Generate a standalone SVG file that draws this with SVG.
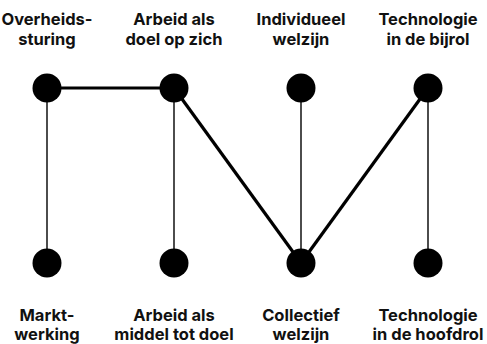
<svg xmlns="http://www.w3.org/2000/svg" width="487" height="344" viewBox="0 0 487 344">
<style>
text{font-family:Inter,"Liberation Sans",sans-serif;font-weight:700;font-size:16.5px;fill:#111;text-anchor:middle}
.thick{stroke:#000;stroke-width:3.2;fill:none}
.thin{stroke:#000;stroke-width:1.4;fill:none}
circle{fill:#000}
</style>
<rect width="487" height="344" fill="#fff"/>
<g id="connectors">
<line class="thin" x1="47" y1="88" x2="47" y2="263"/>
<line class="thin" x1="174" y1="88" x2="174" y2="263"/>
<line class="thin" x1="301" y1="88" x2="301" y2="263"/>
<line class="thin" x1="428" y1="88" x2="428" y2="263"/>
<line class="thick" x1="47" y1="88" x2="174" y2="88"/>
<line class="thick" x1="174" y1="88" x2="301" y2="263"/>
<line class="thick" x1="301" y1="263" x2="428" y2="88"/>
</g>
<g id="overheidssturing"><circle cx="47" cy="88" r="14.5"/><text x="47" y="25">Overheids-</text><text x="47" y="45">sturing</text></g>
<g id="arbeid-doel"><circle cx="174" cy="88" r="14.5"/><text x="174" y="25">Arbeid als</text><text x="174" y="45">doel op zich</text></g>
<g id="individueel"><circle cx="301" cy="88" r="14.5"/><text x="301" y="25">Individueel</text><text x="301" y="45">welzijn</text></g>
<g id="tech-bijrol"><circle cx="428" cy="88" r="14.5"/><text x="428" y="25">Technologie</text><text x="428" y="45">in de bijrol</text></g>
<g id="marktwerking"><circle cx="47" cy="263" r="14.5"/><text x="47" y="321">Markt-</text><text x="47" y="340">werking</text></g>
<g id="arbeid-middel"><circle cx="174" cy="263" r="14.5"/><text x="174" y="321">Arbeid als</text><text x="174" y="340">middel tot doel</text></g>
<g id="collectief"><circle cx="301" cy="263" r="14.5"/><text x="301" y="321">Collectief</text><text x="301" y="340">welzijn</text></g>
<g id="tech-hoofdrol"><circle cx="428" cy="263" r="14.5"/><text x="428" y="321">Technologie</text><text x="428" y="340">in de hoofdrol</text></g>
</svg>
